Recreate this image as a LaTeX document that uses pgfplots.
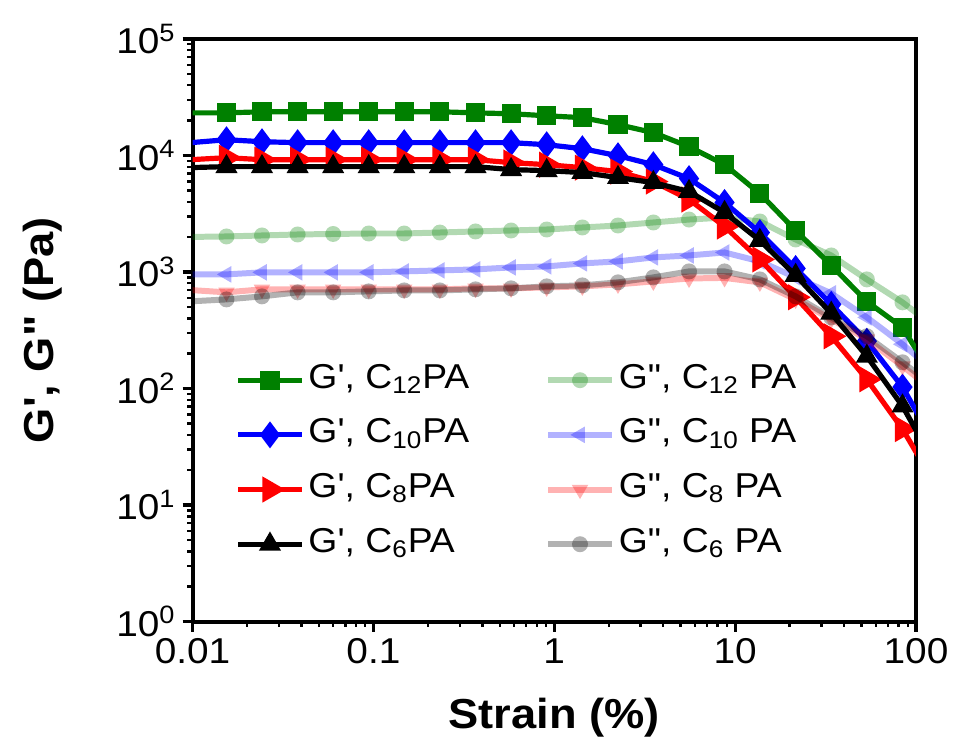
\documentclass[border=0pt]{standalone}
\usepackage{fontspec}
\setmainfont{Liberation Sans}
\newfontfamily\arial{Liberation Sans}[FakeStretch=1.08]
\usepackage{pgfplots}
\usepackage{pgfplotstable}
\pgfplotsset{compat=1.18}
\definecolor{ggreen}{RGB}{0,128,0}

% strain (%), G' and G'' (Pa) for the four PA gels
\pgfplotstableread{
x       gA     gB     gC     gD     ggA   ggB   ggC   ggD
0.00978 23200  12880  9200   7870   2000  954   700   560
0.0154  23200  13650  9570   8020   2018  954   669   582
0.0242  23700  13120  9200   8020   2058  993   710   618
0.0381  23700  12880  9200   8020   2099  993   710   669
0.0599  23700  12880  9200   8020   2120  993   710   669
0.0942  23700  12880  9200   8020   2140  993   710   682
0.148   23700  12880  9200   8020   2140  1012  710   695
0.233   23700  12880  9200   8020   2182  1032  710   695
0.367   23200  12880  9200   8020   2228  1053  724   710
0.577   22800  12880  8680   7560   2271  1095  724   724
0.908   21900  12370  8340   7410   2316  1117  738   753
1.43    21100  11430  7860   7130   2410  1185  753   768
2.25    18400  9950   7270   6460   2506  1233  783   815
3.53    15700  8340   5970   5850   2661  1334  831   899
5.56    11900  6330   4190   4900   2820  1387  880   1012
8.74    8340   3950   2460   3240   2933  1471  890   1012
13.7    4710   2180   1282   1866   2713  1233  815   864
21.6    2270   1073   607    935    1901  899   582   618
34.0    1140   528    281    442    1387  656   393   408
53.5    558    255    120    189    864   408   265   281
84.2    334    103    44.9   70.7   549   240   156   168
132     109    30.3   13.8   20.4   323   133   89.5  98.8
}\data

\begin{document}
\begin{tikzpicture}[font=\arial]
\begin{axis}[
  name=ax,
  scale only axis, width=362.5pt, height=292pt,
  xmode=log, ymode=log,
  xmin=0.01, xmax=100, ymin=1, ymax=1e5,
  axis line style={line width=2pt},
  tick align=outside,
  xtick pos=left, ytick pos=left,
  major tick length=5pt, minor tick length=2.6pt,
  every major tick/.append style={line width=1.6pt, black},
  every minor tick/.append style={line width=1.2pt, black},
  xtick={0.01,0.1,1,10,100},
  xticklabels={0.01,0.1,1,10,100},
  minor xtick={0.02,0.03,0.04,0.05,0.06,0.07,0.08,0.09,0.2,0.3,0.4,0.5,0.6,0.7,0.8,0.9,2,3,4,5,6,7,8,9,20,30,40,50,60,70,80,90},
  ytick={1,10,100,1000,10000,100000},
  yticklabels={10\textsuperscript{0},10\textsuperscript{1},10\textsuperscript{2},10\textsuperscript{3},10\textsuperscript{4},10\textsuperscript{5}},
  minor ytick={2,3,4,5,6,7,8,9,20,30,40,50,60,70,80,90,200,300,400,500,600,700,800,900,2000,3000,4000,5000,6000,7000,8000,9000,20000,30000,40000,50000,60000,70000,80000,90000},
  ticklabel style={font=\arial\fontsize{18}{20}\selectfont},
  xlabel={Strain (\%)},
  ylabel={G', G" (Pa)},
  label style={font=\arial\bfseries\fontsize{21}{24}\selectfont},
  xlabel style={at={(axis description cs:0.5,-0.165)}, anchor=center},
  ylabel style={at={(axis description cs:-0.207,0.5)}, anchor=center, rotate=0},
  clip marker paths=true,
  legend columns=2,
  legend cell align=left,
  legend style={draw=none, fill=none, inner sep=0pt, outer sep=0pt,
    at={(0.0593,0.4486)}, anchor=north west,
    font=\arial\fontsize{17.3}{20}\selectfont,
    nodes={inner sep=2pt, text height=12pt, text depth=4pt},
    row sep=7.4pt,
    /tikz/every even column/.append style={column sep=36pt}},
  legend image code/.code={\draw[mark repeat=2,mark phase=2] plot coordinates {(0pt,0pt) (16pt,0pt) (32pt,0pt)};},
  gp/.style={line width=2.6pt, mark options={solid}},
  gpp/.style={line width=3pt, opacity=0.3, mark options={draw opacity=0}},
]
\addplot[gp, ggreen, mark=square*, mark size=3.5pt] table[x=x, y=gA] {\data};
\addlegendentry{G', C\textsubscript{12}PA}
\addplot[gpp, ggreen, mark=*, mark size=4pt] table[x=x, y=ggA] {\data};
\addlegendentry{G", C\textsubscript{12} PA}
\addplot[gp, blue, mark=diamond*, mark size=4.6pt] table[x=x, y=gB] {\data};
\addlegendentry{G', C\textsubscript{10}PA}
\addplot[gpp, blue, mark=triangle*, mark size=4.8pt, every mark/.append style={rotate=90}] table[x=x, y=ggB] {\data};
\addlegendentry{G", C\textsubscript{10} PA}
\addplot[gp, red, mark=triangle*, mark size=5pt, every mark/.append style={rotate=-90}] table[x=x, y=gC] {\data};
\addlegendentry{G', C\textsubscript{8}PA}
\addplot[gpp, red, mark=triangle*, mark size=4.8pt, every mark/.append style={rotate=180}] table[x=x, y=ggC] {\data};
\addlegendentry{G", C\textsubscript{8} PA}
\addplot[gp, black, mark=triangle*, mark size=3.8pt] table[x=x, y=gD] {\data};
\addlegendentry{G', C\textsubscript{6}PA}
\addplot[gpp, black, mark=*, mark size=4pt] table[x=x, y=ggD] {\data};
\addlegendentry{G", C\textsubscript{6} PA}
\end{axis}
\path ([xshift=-96.5pt,yshift=-58.5pt]ax.south west) rectangle ([xshift=18.5pt,yshift=19.5pt]ax.north east);
\end{tikzpicture}
\end{document}
